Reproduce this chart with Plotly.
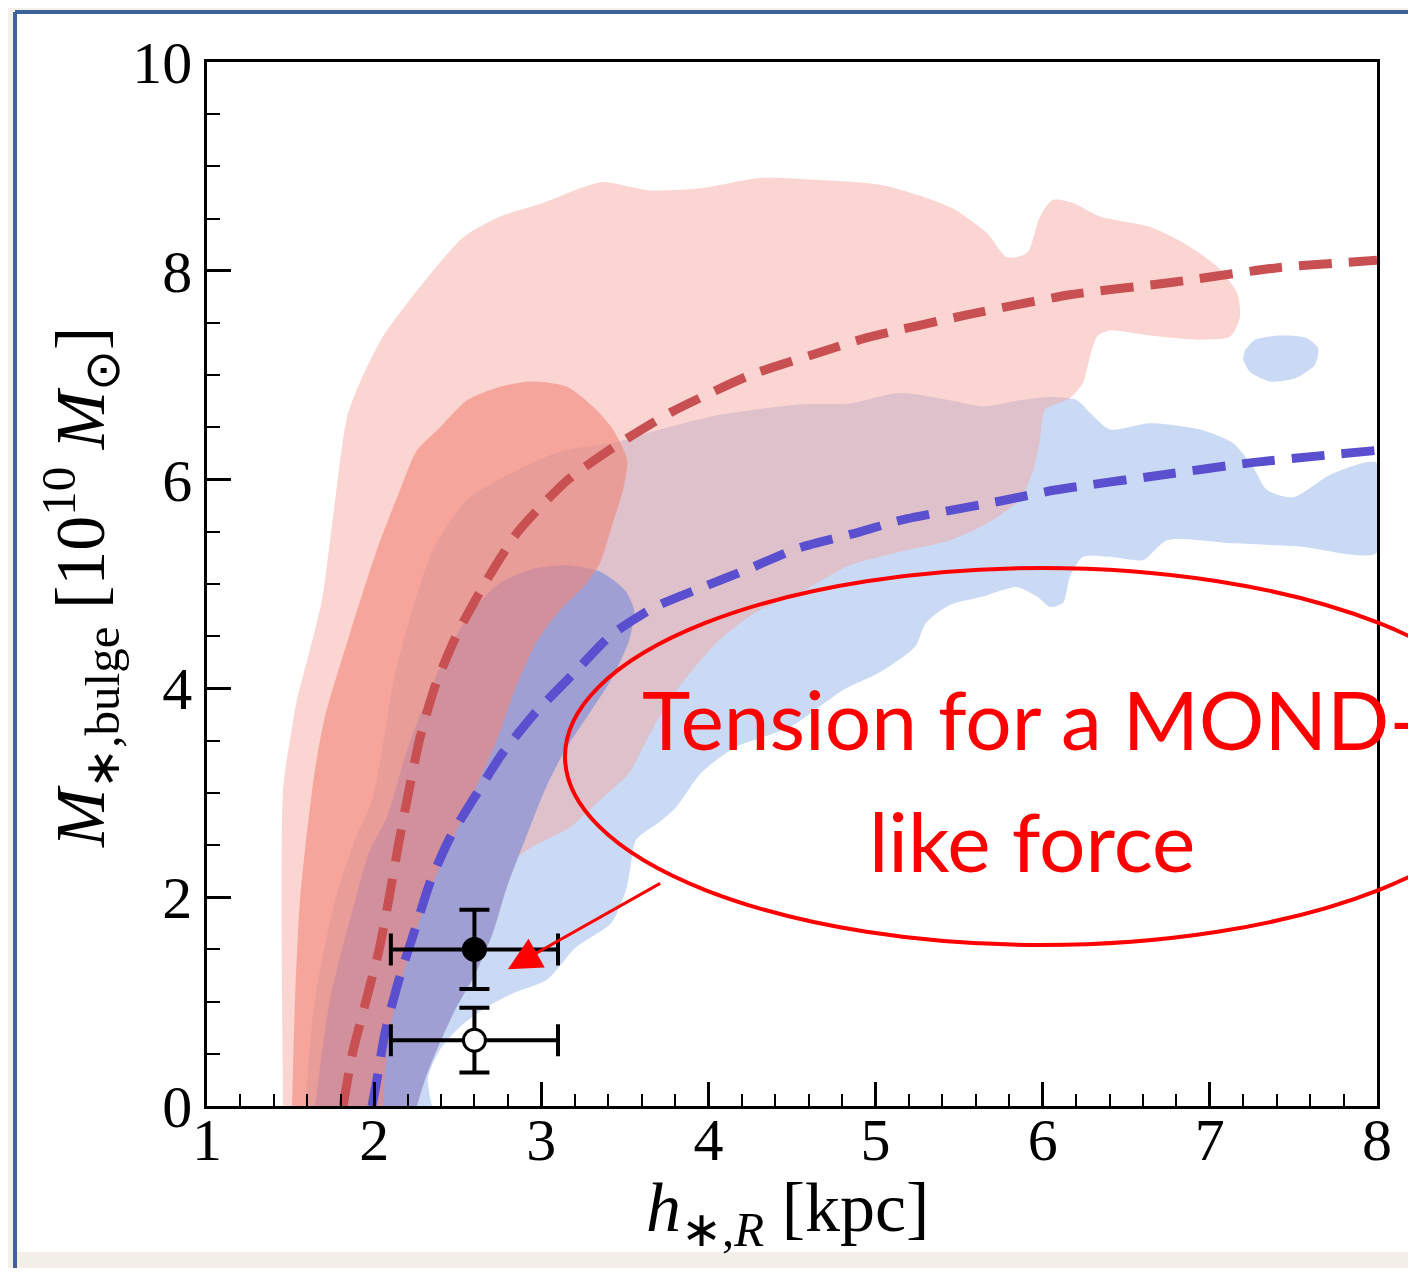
import plotly.graph_objects as go

# ---------------- data (h_*,R in kpc, M_*,bulge in 1e10 Msun) ----------------
# outer (light) contour of the red model
red_outer_x = [1.455, 1.455, 1.497, 1.538, 1.616, 1.688, 1.754, 1.838, 1.915, 2.053, 2.292, 2.532, 2.753, 3.010,
               3.250, 3.369, 3.650, 3.950, 4.309, 4.668, 5.044, 5.445, 5.667, 5.786, 5.906, 5.984, 6.062, 6.181,
               6.343, 6.642, 6.839, 7.043, 7.162, 7.180, 7.121, 6.941, 6.642, 6.403, 6.325, 6.283, 6.241, 6.163,
               6.014, 5.984, 5.942, 5.864, 5.655, 5.445, 5.146, 4.847, 4.548, 4.273, 4.063, 3.890, 3.740, 3.632,
               3.525, 3.351, 3.172, 2.933, 2.693, 2.484, 2.334, 2.215, 2.143]
red_outer_y = [0.0, 3.03, 3.51, 3.89, 4.37, 4.85, 5.64, 6.60, 6.93, 7.37, 7.88, 8.32, 8.52, 8.65,
               8.80, 8.85, 8.77, 8.79, 8.89, 8.87, 8.82, 8.61, 8.36, 8.13, 8.17, 8.52, 8.68, 8.65,
               8.52, 8.42, 8.27, 8.04, 7.79, 7.56, 7.37, 7.34, 7.38, 7.43, 7.37, 7.18, 6.93, 6.78,
               6.67, 6.38, 6.09, 5.81, 5.57, 5.42, 5.31, 5.18, 4.92, 4.72, 4.46, 4.15, 3.82, 3.51,
               3.19, 2.93, 2.67, 2.47, 2.17, 1.69, 1.11, 0.54, 0.0]

# inner (dark) contour of the red model
red_inner_x = [1.509, 1.527, 1.556, 1.586, 1.646, 1.706, 1.856, 2.017, 2.155, 2.256, 2.394, 2.556, 2.753, 2.950,
               3.154, 3.309, 3.429, 3.513, 3.489, 3.429, 3.351, 3.262, 3.112, 2.962, 2.843, 2.735, 2.603, 2.454,
               2.334, 2.244, 2.173, 2.107, 2.071, 2.053]
red_inner_y = [0.0, 1.02, 1.97, 2.45, 3.22, 3.73, 4.53, 5.33, 5.90, 6.28, 6.50, 6.76, 6.89, 6.94,
               6.89, 6.70, 6.48, 6.19, 5.90, 5.59, 5.20, 4.99, 4.75, 4.42, 3.99, 3.51, 3.03, 2.50,
               2.07, 1.64, 1.26, 0.82, 0.44, 0.0]

# outer (light) contour of the blue model
blue_outer_x = [1.586, 1.646, 1.766, 1.886, 1.987, 2.047, 2.113, 2.215, 2.352, 2.556, 2.855, 3.112, 3.453, 3.710,
                4.069, 4.548, 4.847, 5.146, 5.445, 5.643, 5.864, 6.044, 6.205, 6.283, 6.403, 6.642, 6.941, 7.138,
                7.258, 7.342, 7.498, 7.737, 8.0, 8.0, 7.539, 7.138, 6.744, 6.601, 6.403, 6.241, 6.163, 6.122,
                6.044, 5.966, 5.846, 5.643, 5.445, 5.302, 5.236, 5.020, 4.811, 4.488, 4.165, 3.956, 3.806, 3.699,
                3.567, 3.531, 3.507, 3.417, 3.208, 3.034, 2.831, 2.675, 2.514, 2.394, 2.322, 2.346]
blue_outer_y = [0.0, 1.02, 1.97, 2.55, 2.93, 3.41, 4.05, 4.68, 5.33, 5.81, 6.09, 6.27, 6.36, 6.48,
                6.62, 6.72, 6.73, 6.83, 6.76, 6.70, 6.76, 6.79, 6.76, 6.64, 6.48, 6.54, 6.48, 6.35,
                6.12, 5.90, 5.83, 6.06, 6.16, 5.30, 5.36, 5.39, 5.42, 5.23, 5.26, 5.26, 5.07, 4.82,
                4.78, 4.88, 4.97, 4.88, 4.80, 4.63, 4.40, 4.15, 3.99, 3.63, 3.44, 3.19, 2.86, 2.71,
                2.55, 2.26, 2.07, 1.75, 1.52, 1.21, 1.08, 0.95, 0.76, 0.54, 0.27, 0.0]

# small isolated island of the blue outer contour
blue_island_x = [7.210, 7.270, 7.420, 7.571, 7.647, 7.629, 7.510, 7.360, 7.240, 7.198]
blue_island_y = [7.24, 7.34, 7.38, 7.36, 7.26, 7.10, 6.97, 6.94, 7.03, 7.15]

# inner (dark) contour of the blue model
blue_inner_x = [1.646, 1.736, 1.886, 1.975, 2.077, 2.197, 2.352, 2.556, 2.753, 2.962, 3.154, 3.351, 3.501, 3.555,
                3.525, 3.417, 3.291, 3.142, 3.022, 2.903, 2.795, 2.711, 2.603, 2.484, 2.376, 2.304, 2.256]
blue_inner_y = [0.0, 1.02, 1.97, 2.45, 2.77, 3.41, 4.05, 4.68, 5.01, 5.15, 5.18, 5.12, 4.94, 4.75,
                4.46, 4.08, 3.77, 3.41, 3.03, 2.55, 2.10, 1.66, 1.26, 0.92, 0.54, 0.25, 0.0]

# dashed model relations
red_curve_x = [1.814, 1.870, 1.950, 2.030, 2.090, 2.145, 2.205, 2.270, 2.360, 2.490, 2.660, 2.860, 3.160, 3.490,
               3.782, 4.249, 4.650, 4.949, 5.553, 6.163, 6.780, 7.408, 8.0]
red_curve_y = [0.0, 0.5, 1.0, 1.5, 2.0, 2.5, 3.0, 3.5, 4.0, 4.5, 5.0, 5.5, 6.0, 6.37,
               6.65, 7.00, 7.21, 7.36, 7.58, 7.77, 7.89, 8.03, 8.10]
blue_curve_x = [1.987, 2.011, 2.065, 2.143, 2.244, 2.334, 2.454, 2.621, 2.760, 2.960, 3.180, 3.417, 3.680, 3.950,
                4.249, 4.530, 4.907, 5.146, 5.763, 6.074, 6.690, 7.240, 8.0]
blue_curve_y = [0.0, 0.20, 0.70, 1.18, 1.69, 2.14, 2.57, 3.01, 3.36, 3.76, 4.12, 4.51, 4.78, 4.96,
                5.15, 5.34, 5.50, 5.61, 5.80, 5.90, 6.04, 6.16, 6.28]

# measurements with error bars
meas_x = [2.6, 2.6]
meas_y = [1.5, 0.63]
meas_xerr = [0.5, 0.5]
meas_yerr = [0.38, 0.31]
meas_fill = ["black", "white"]

x_ticks = [1, 2, 3, 4, 5, 6, 7, 8]
y_ticks = [0, 2, 4, 6, 8, 10]

# ---------------- figure ----------------
SERIF = "Liberation Serif, Times New Roman, serif"
fig = go.Figure()


def region(xs, ys, color):
    fig.add_trace(go.Scatter(
        x=xs, y=ys, mode="lines", fill="toself", fillcolor=color,
        line=dict(width=0, color="rgba(0,0,0,0)", shape="spline", smoothing=0.7),
        hoverinfo="skip", showlegend=False))


region(blue_outer_x, blue_outer_y, "#cadaf4")
region(blue_island_x, blue_island_y, "#cadaf4")
region(red_outer_x, red_outer_y, "rgba(246,162,153,0.45)")
region(blue_inner_x, blue_inner_y, "#a09fd3")
region(red_inner_x, red_inner_y, "rgba(241,136,122,0.62)")

fig.add_trace(go.Scatter(x=red_curve_x, y=red_curve_y, mode="lines",
                         line=dict(color="#c85052", width=9, dash="33px,17px", shape="spline", smoothing=0.6),
                         hoverinfo="skip", showlegend=False))
fig.add_trace(go.Scatter(x=blue_curve_x, y=blue_curve_y, mode="lines",
                         line=dict(color="#5a4fcf", width=9, dash="33px,17px", shape="spline", smoothing=0.6),
                         hoverinfo="skip", showlegend=False))

for i in range(len(meas_x)):
    fig.add_trace(go.Scatter(
        x=[meas_x[i]], y=[meas_y[i]], mode="markers",
        marker=dict(size=22, color=meas_fill[i], line=dict(color="black", width=3)),
        error_x=dict(type="data", array=[meas_xerr[i]], color="black", thickness=4, width=16),
        error_y=dict(type="data", array=[meas_yerr[i]], color="black", thickness=4, width=15),
        hoverinfo="skip", showlegend=False))

# The page body adds an 8px margin, so the figure is 1400x1260 and sits at (8, 8).
OFF = 8
W, H = 1400, 1260
L, R, T, B = 207 - OFF, 31, 62 - OFF, 162
pw, ph = W - L - R, H - T - B


def px(xp):          # page pixel -> paper fraction
    return (xp - OFF - L) / pw


def py(yp):
    return (H - B - (yp - OFF)) / ph


# page frame (white card with blue border on a beige background)
fig.add_shape(type="rect", xref="paper", yref="paper", x0=px(15), x1=px(1460), y0=py(1252), y1=py(12),
              fillcolor="white", line=dict(width=0), layer="below")
fig.add_shape(type="line", xref="paper", yref="paper", x0=px(15), x1=px(1460), y0=py(12), y1=py(12),
              line=dict(color="#3d6399", width=4), layer="below")
fig.add_shape(type="line", xref="paper", yref="paper", x0=px(15), x1=px(15), y0=py(1290), y1=py(12),
              line=dict(color="#3d6399", width=4), layer="below")

# red hand-drawn annotation
fig.add_shape(type="circle", xref="paper", yref="paper", x0=px(565), x1=px(1519), y0=py(945), y1=py(568),
              line=dict(color="#ff0000", width=4), layer="above")
fig.add_annotation(x=2.80, y=1.31, ax=3.72, ay=2.14, xref="x", yref="y", axref="x", ayref="y",
                   text="", showarrow=True, arrowhead=2, arrowsize=2.2, arrowwidth=3, arrowcolor="#ff0000")
fig.add_annotation(x=px(640), y=py(718), xref="paper", yref="paper", xanchor="left", yanchor="middle",
                   text="Tension for a MOND-", showarrow=False,
                   font=dict(family="Lato, sans-serif", size=82, color="#ff0000"))
fig.add_annotation(x=px(1032), y=py(840), xref="paper", yref="paper", xanchor="center", yanchor="middle",
                   text="like force", showarrow=False,
                   font=dict(family="Lato, sans-serif", size=82, color="#ff0000"))

# axis titles
fig.add_annotation(x=px(787), y=py(1213), xref="paper", yref="paper", xanchor="center", yanchor="middle",
                   text="<i>h</i><sub>∗,<i>R</i></sub> [kpc]", showarrow=False,
                   font=dict(family=SERIF, size=70, color="black"))
fig.add_annotation(x=px(80), y=py(588), xref="paper", yref="paper", xanchor="center", yanchor="middle",
                   textangle=-90,
                   text="<i>M</i><sub>∗,bulge</sub> [10<sup>10</sup> <i>M</i><sub>⊙</sub>]", showarrow=False,
                   font=dict(family=SERIF, size=70, color="black"))

axis_common = dict(showgrid=False, zeroline=False, showline=True, linecolor="black", linewidth=2.5,
                   mirror=True, ticks="inside", tickcolor="black", tickwidth=2.5,
                   tickfont=dict(family=SERIF, size=60, color="black"))
fig.update_xaxes(range=[1, 8], tickvals=x_ticks, ticktext=[str(v) for v in x_ticks], ticklen=24,
                 ticklabelstandoff=-21,
                 minor=dict(dtick=0.2, ticks="inside", ticklen=12, tickwidth=2, tickcolor="black"),
                 **axis_common)
fig.update_yaxes(range=[0, 10], tickvals=y_ticks, ticktext=[str(v) for v in y_ticks], ticklen=24,
                 minor=dict(dtick=0.5, ticks="inside", ticklen=13, tickwidth=2, tickcolor="black"),
                 **axis_common)

fig.update_layout(width=W, height=H, margin=dict(l=L, r=R, t=T, b=B, autoexpand=False),
                  paper_bgcolor="#f3f0ea", plot_bgcolor="rgba(0,0,0,0)", showlegend=False,
                  hovermode=False)

fig.write_html("out.html")
